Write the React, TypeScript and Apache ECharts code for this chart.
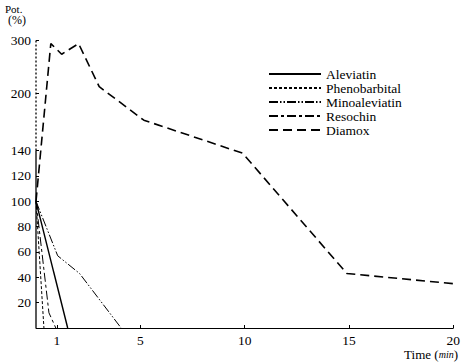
import React, { useEffect, useRef } from "react";
import * as echarts from "echarts";

// Tick labels
const xTicks = [1, 5, 10, 15, 20];
const yTicks = [20, 40, 60, 80, 100, 120, 140, 200, 300];

// Series (time in min, potency in %)
const aleviatinT = [0, 1.52];
const aleviatinV = [100, 0];
const phenobarbitalT = [0, 0.38];
const phenobarbitalV = [100, 0];
const minoaleviatinT = [0, 1.04, 2.09, 4.08];
const minoaleviatinV = [100, 57, 43, 0];
const resochinT = [0, 0.62, 0.95];
const resochinV = [100, 12, 0];
const diamoxT = [0, 0.71, 1.23, 2.04, 3.03, 5.17, 9.9, 14.9, 20];
const diamoxV = [100, 294, 274, 294, 213, 172, 138, 43, 35];

// broken (compressed) upper part of the potency axis
function toDisplay(v: number): number {
  if (v <= 140) return v;
  if (v <= 200) return 140 + ((v - 140) * 45) / 60;
  return 185 + ((v - 200) * 42) / 100;
}

const FONT = "'Liberation Serif', 'DejaVu Serif', serif";
const INK = "#000";

function pts(t: number[], v: number[]) {
  return t.map((x, i) => [x, toDisplay(v[i])]);
}

export default function App() {
  const ref = useRef<HTMLDivElement>(null);
  useEffect(() => {
    if (!ref.current) return;
    const chart = echarts.init(ref.current, null, { renderer: "svg" });
    const disp = yTicks.map(toDisplay);
    const base = {
      type: "line" as const,
      symbol: "none",
      showSymbol: false,
      clip: false,
      z: 3,
    };
    chart.setOption({
      animation: false,
      backgroundColor: "#fff",
      grid: { left: 36, right: 5, top: 40, bottom: 35 },
      xAxis: {
        type: "value",
        min: 0,
        max: 20,
        splitLine: { show: false },
        axisLine: { lineStyle: { color: INK, width: 1 } },
        axisTick: {
          customValues: xTicks,
          inside: true,
          length: 3,
          lineStyle: { color: INK },
        },
        axisLabel: {
          customValues: xTicks,
          margin: 5,
          color: INK,
          fontFamily: FONT,
          fontSize: 13.5,
        },
      },
      yAxis: {
        type: "value",
        min: 0,
        max: toDisplay(300) + 0.3,
        splitLine: { show: false },
        axisLine: { show: false },
        axisTick: {
          customValues: disp,
          inside: true,
          length: 3,
          lineStyle: { color: INK },
        },
        axisLabel: {
          customValues: disp,
          margin: 5,
          color: INK,
          fontFamily: FONT,
          fontSize: 13.5,
          formatter: (val: number) => {
            const i = disp.findIndex((d) => Math.abs(d - val) < 0.01);
            return i >= 0 ? String(yTicks[i]) : "";
          },
        },
      },
      legend: {
        orient: "vertical",
        left: 268,
        top: 67,
        padding: 0,
        itemWidth: 52,
        itemHeight: 10,
        itemGap: 0,
        itemStyle: { opacity: 0 },
        textStyle: {
          fontFamily: FONT,
          fontSize: 13.5,
          lineHeight: 13,
          color: INK,
          padding: [0, 0, 0, 0],
        },
        data: ["Aleviatin", "Phenobarbital", "Minoaleviatin", "Resochin", "Diamox"],
      },
      graphic: [
        {
          type: "text",
          left: 5,
          top: 3,
          style: { text: "Pot.", font: `11px ${FONT}`, fill: INK },
        },
        {
          type: "text",
          left: 8,
          top: 14,
          style: { text: "(%)", font: `12px ${FONT}`, fill: INK },
        },
        {
          type: "text",
          right: 5,
          bottom: 2,
          style: {
            text: "Time ({i|min})",
            font: `13px ${FONT}`,
            fill: INK,
            rich: { i: { fontFamily: FONT, fontSize: 10, fontStyle: "italic", fill: INK } },
          },
        },
      ],
      series: [
        {
          ...base,
          name: "axis-lower",
          data: [
            [0, 0],
            [0, toDisplay(140)],
          ],
          lineStyle: { color: INK, width: 1.3, type: "solid" },
          silent: true,
          z: 2,
        },
        {
          ...base,
          name: "axis-upper",
          data: [
            [0, toDisplay(140)],
            [0, toDisplay(300)],
          ],
          lineStyle: { color: INK, width: 1.3, type: [2, 2] },
          silent: true,
          z: 2,
        },
        {
          ...base,
          name: "Aleviatin",
          data: pts(aleviatinT, aleviatinV),
          lineStyle: { color: INK, width: 1.4, type: "solid" },
          itemStyle: { color: INK },
        },
        {
          ...base,
          name: "Phenobarbital",
          data: pts(phenobarbitalT, phenobarbitalV),
          lineStyle: { color: INK, width: 1, type: [3, 2] },
          itemStyle: { color: INK },
        },
        {
          ...base,
          name: "Minoaleviatin",
          data: pts(minoaleviatinT, minoaleviatinV),
          lineStyle: { color: INK, width: 1, type: [9, 2, 1.5, 2, 1.5, 2] },
          itemStyle: { color: INK },
        },
        {
          ...base,
          name: "Resochin",
          data: pts(resochinT, resochinV),
          lineStyle: { color: INK, width: 1, type: [9, 3, 3, 3] },
          itemStyle: { color: INK },
        },
        {
          ...base,
          name: "Diamox",
          data: pts(diamoxT, diamoxV),
          lineStyle: { color: INK, width: 1.6, type: [9, 5] },
          itemStyle: { color: INK },
        },
      ],
    });
    return () => chart.dispose();
  }, []);
  return (
    <div
      ref={ref}
      style={{ position: "fixed", left: 0, top: 0, width: 463, height: 363 }}
    />
  );
}
